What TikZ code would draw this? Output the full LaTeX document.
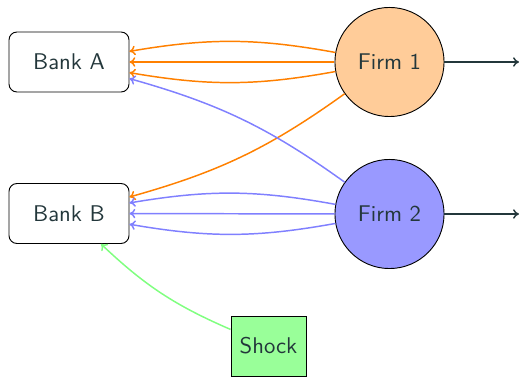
\documentclass[tikz,border=0pt]{standalone}
\usetikzlibrary{arrows.meta}
\definecolor{inkteal}{HTML}{23373B}
\begin{document}
\begin{tikzpicture}[x=0.44pt,y=-0.44pt,
  every node/.style={font=\sffamily, text=inkteal},
  bank/.style={draw=black, rounded corners=3.5pt, minimum width=52.8pt, minimum height=26.4pt, inner sep=0pt},
  firm/.style={draw=black, circle, minimum size=48pt, inner sep=0pt},
  shockbox/.style={draw=black, fill=green!40, minimum width=33pt, minimum height=26.4pt, inner sep=0pt},
  link/.style={-{To[length=2.6pt,width=4.2pt]}, line width=0.65pt},
  outflow/.style={-{To[length=2.6pt,width=4.2pt]}, line width=0.65pt, draw=inkteal}]
  \useasboundingbox (0,0) rectangle (520,377);

  % nodes
  \node[bank] (bankA) at (69,62) {Bank A};
  \node[bank] (bankB) at (69,213.5) {Bank B};
  \node[firm, fill=orange!40] (firm1) at (389.5,62) {Firm 1};
  \node[firm, fill=blue!40] (firm2) at (389.5,214) {Firm 2};
  \node[shockbox] (shock) at (268.5,346) {Shock};
  \coordinate (out1) at (519,62);
  \coordinate (out2) at (519,214);

  % loans from firm 1
  \draw[link, orange] (firm1) to[bend right=10] (bankA);
  \draw[link, orange] (firm1) -- (bankA);
  \draw[link, orange] (firm1) to[bend left=10] (bankA);
  \draw[link, orange] (firm1) to[bend left=10] (bankB);

  % loans from firm 2
  \draw[link, blue!50] (firm2) to[bend right=10] (bankA);
  \draw[link, blue!50] (firm2) to[bend right=10] (bankB);
  \draw[link, blue!50] (firm2) -- (bankB);
  \draw[link, blue!50] (firm2) to[bend left=10] (bankB);

  % shock hitting bank B
  \draw[link, green!50] (shock) to[bend left=10] (bankB);

  % output of the firms
  \draw[outflow] (firm1) -- (out1);
  \draw[outflow] (firm2) -- (out2);
\end{tikzpicture}
\end{document}
